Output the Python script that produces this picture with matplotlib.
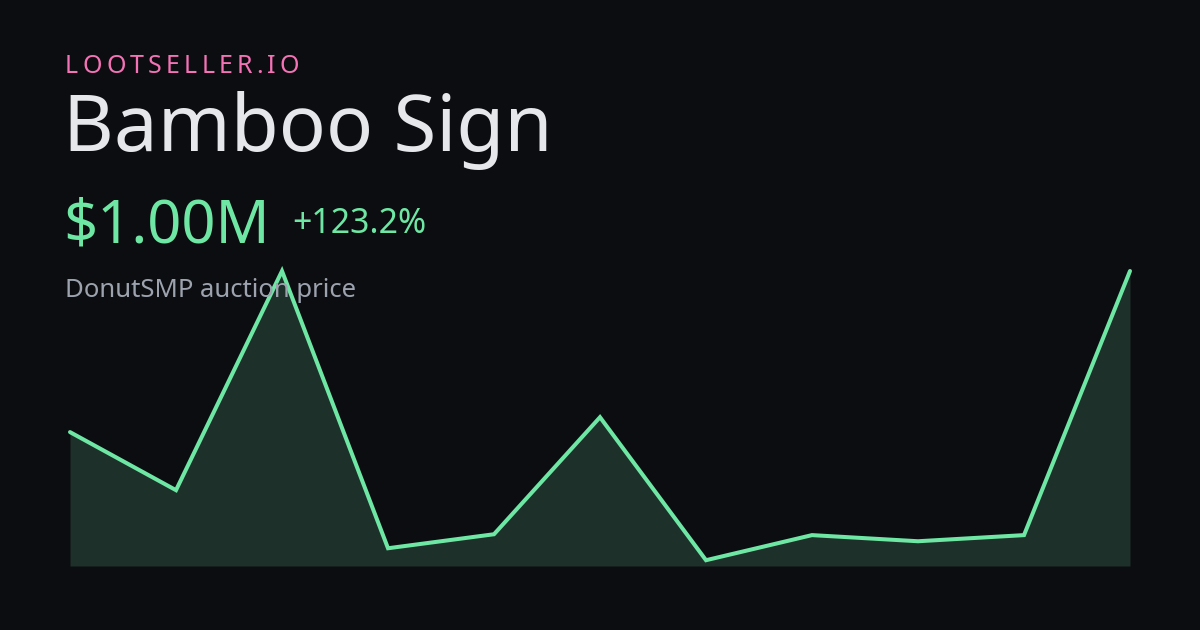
import matplotlib.pyplot as plt

# data (price in millions)
days = list(range(11))
prices = [0.448, 0.249, 1.00, 0.050, 0.098, 0.499, 0.009, 0.095, 0.074, 0.095, 1.00]

brand = "LOOTSELLER.IO"
item_name = "Bamboo Sign"
price_label = "$1.00M"
change_label = "+123.2%"
subtitle = "DonutSMP auction price"

bg = "#0c0d10"
green = "#6ee7a4"
fill = "#1e302a"

W, H = 1200, 630
fig = plt.figure(figsize=(W / 100, H / 100), dpi=100, facecolor=bg)
plt.rcParams['font.family'] = ['Noto Sans', 'DejaVu Sans']


def px(x, y):
    return x / W, 1 - y / H


# chart area
ax = fig.add_axes([70 / W, (H - 566) / H, 1060 / W, (566 - 271) / H])
ax.set_facecolor(bg)
lo = min(prices) - (max(prices) - min(prices)) * 0.02
ax.fill_between(days, prices, lo, color=fill, linewidth=0)
ax.plot(days, prices, color=green, linewidth=2.9, solid_joinstyle='miter',
        solid_capstyle='round', clip_on=False)
ax.set_xlim(days[0], days[-1])
ax.set_ylim(lo, max(prices))
ax.axis('off')

# brand with letter spacing
renderer = fig.canvas.get_renderer()
x = 65
for ch in brand:
    t = fig.text(*px(x, 73), ch, color="#f472b6", fontsize=18.0, va='baseline')
    w = t.get_window_extent(renderer).width
    x += w + 4.2

fig.text(*px(63, 151), item_name, color="#e5e7eb", fontsize=56.2, va='baseline')
fig.text(*px(63, 243), price_label, color=green, fontsize=43, va='baseline')
fig.text(*px(292, 233), change_label, color=green, fontsize=24.4, va='baseline')
fig.text(*px(65, 297), subtitle, color="#9ca3af", fontsize=18.5, va='baseline')

fig.savefig("out.png", dpi=100, facecolor=bg)
